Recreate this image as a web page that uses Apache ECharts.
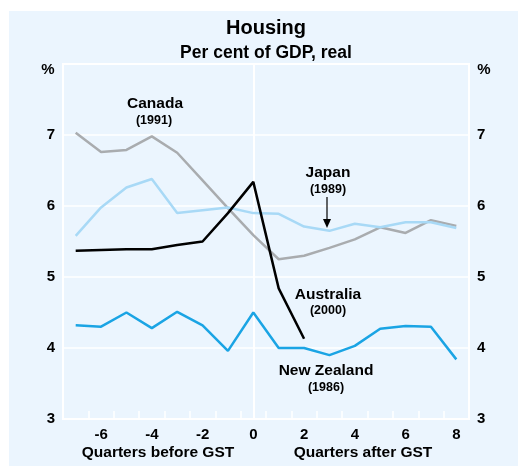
<!DOCTYPE html>
<html>
<head>
<meta charset="utf-8">
<script src="https://cdn.jsdelivr.net/npm/echarts@6/dist/echarts.min.js"></script>
<style>html,body{margin:0;padding:0;background:#fff;}#c{width:518px;height:466px;}</style>
</head>
<body>
<div id="c"></div>
<script>
var quarters = ['-7','-6','-5','-4','-3','-2','-1','0','1','2','3','4','5','6','7','8'];
var canada = [7.03, 6.76, 6.79, 6.98, 6.75, 6.36, 5.97, 5.59, 5.25, 5.30, 5.41, 5.53, 5.70, 5.62, 5.80, 5.72];
var japan = [5.58, 5.98, 6.26, 6.38, 5.90, 5.94, 5.98, 5.90, 5.89, 5.71, 5.65, 5.75, 5.70, 5.77, 5.77, 5.69];
var australia = [5.37, 5.38, 5.39, 5.39, 5.45, 5.50, 5.90, 6.34, 4.84, 4.13, null, null, null, null, null, null];
var newZealand = [4.32, 4.30, 4.50, 4.28, 4.51, 4.32, 3.96, 4.50, 4.00, 4.00, 3.90, 4.03, 4.27, 4.31, 4.30, 3.84];
var yTicks = [3, 4, 5, 6, 7, 8];

var FONT = '"Liberation Sans", Arial, sans-serif';
var chart = echarts.init(document.getElementById('c'));

function lbl(x, y, t, size) {
  return {type:'text', x:x, y:y, z:50, style:{text:t, fill:'#000', font:'bold ' + size + 'px ' + FONT, textAlign:'center', textVerticalAlign:'middle'}};
}

function line(name, data, color, z) {
  return {name:name, type:'line', data:data, symbol:'none', smooth:false, z:z,
    lineStyle:{color:color, width:2.5}, itemStyle:{color:color}, connectNulls:false, animation:false};
}

var series = [
  line('Canada', canada, '#a9acaf', 3),
  line('Japan', japan, '#a8d9f6', 4),
  line('Australia', australia, '#000000', 5),
  line('New Zealand', newZealand, '#1aa4e4', 6)
];
series[0].markLine = {silent:true, symbol:'none', label:{show:false}, animation:false,
  lineStyle:{color:'#ffffff', width:2, type:'solid'}, data:[{xAxis:'0'}], z:1};

var axisLabelY = {color:'#000', fontSize:15, fontWeight:'bold', fontFamily:FONT, margin:8, showMaxLabel:false};

chart.setOption({
  backgroundColor:'#ffffff',
  animation:false,
  grid:{left:63, right:49, top:64, bottom:47, show:true, borderColor:'#ffffff', borderWidth:2, backgroundColor:'transparent'},
  xAxis:{type:'category', data:quarters, boundaryGap:true,
    axisLine:{show:true, lineStyle:{color:'#ffffff', width:2}},
    axisTick:{show:true, inside:true, length:8, interval:0, lineStyle:{color:'#ffffff', width:1.5}},
    axisLabel:{color:'#000', fontSize:15, fontWeight:'bold', fontFamily:FONT, margin:8,
      interval:function(i, v){ return Number(v) % 2 === 0; }},
    splitLine:{show:false}},
  yAxis:[
    {type:'value', min:yTicks[0], max:yTicks[yTicks.length-1], interval:1, position:'left',
      axisLine:{show:false}, axisTick:{show:false}, axisLabel:axisLabelY,
      splitLine:{show:true, lineStyle:{color:'#ffffff', width:1.5}}},
    {type:'value', min:yTicks[0], max:yTicks[yTicks.length-1], interval:1, position:'right',
      axisLine:{show:false}, axisTick:{show:false}, axisLabel:axisLabelY, splitLine:{show:false}}
  ],
  series:series,
  graphic:[
    {type:'rect', shape:{x:9, y:11, width:509, height:455}, style:{fill:'#ebf5fe'}, z:-100, silent:true},
    lbl(266, 28, 'Housing', 20),
    lbl(266, 53, 'Per cent of GDP, real', 17.5),
    lbl(48, 70, '%', 15),
    lbl(484, 70, '%', 15),
    lbl(158, 453, 'Quarters before GST', 15.5),
    lbl(363, 453, 'Quarters after GST', 15.5),
    lbl(155, 104, 'Canada', 15.5),
    lbl(154, 121, '(1991)', 12.5),
    lbl(328, 173, 'Japan', 15.5),
    lbl(328, 190, '(1989)', 12.5),
    {type:'line', z:50, shape:{x1:327, y1:197, x2:327, y2:222}, style:{stroke:'#000', lineWidth:1.2}},
    {type:'polygon', z:50, shape:{points:[[323,219],[331,219],[327,228]]}, style:{fill:'#000'}},
    lbl(328, 295, 'Australia', 15.5),
    lbl(328, 311, '(2000)', 12.5),
    lbl(326, 371, 'New Zealand', 15.5),
    lbl(326, 388, '(1986)', 12.5)
  ]
});
</script>
</body>
</html>
